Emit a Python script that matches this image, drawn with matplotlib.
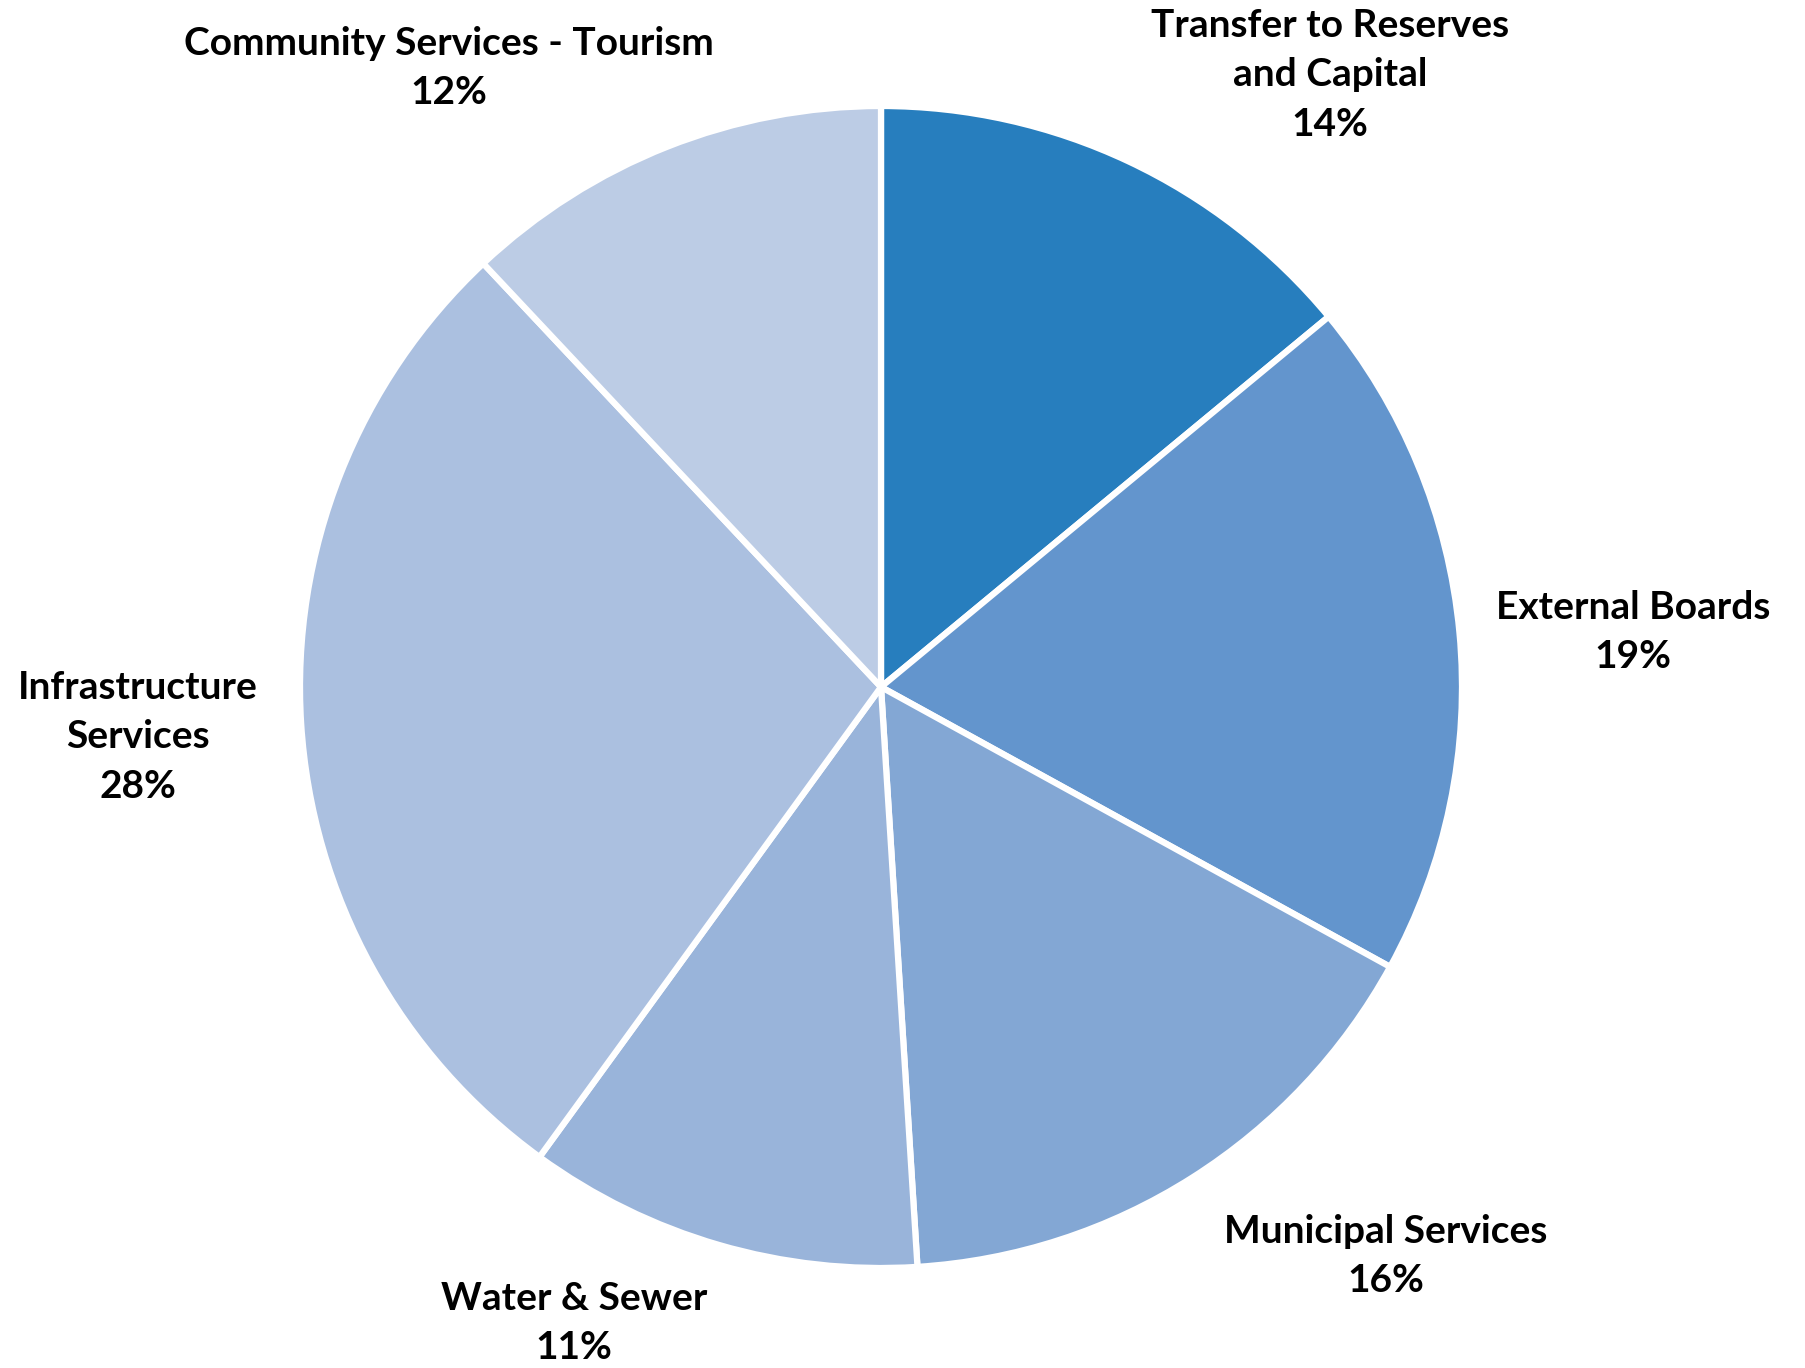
import matplotlib.pyplot as plt

categories = ['Transfer to Reserves\nand Capital', 'External Boards', 'Municipal Services',
              'Water & Sewer', 'Infrastructure\nServices', 'Community Services - Tourism']
shares = [14, 19, 16, 11, 28, 12]
colors = ['#277EBE', '#6395CD', '#83A7D4', '#99B4DA', '#ABC0E0', '#BCCCE5']

# label centres in pixel coords (x from left, y from top)
label_pos = [(1330, 75), (1633, 632), (1386, 1256), (574, 1323), (138, 737), (449, 68)]

W, H = 1806, 1368
plt.rcParams['font.family'] = ['Lato', 'DejaVu Sans']

fig = plt.figure(figsize=(W / 100, H / 100), dpi=100)
ax = fig.add_axes([0, 0, 1, 1])

ax.pie(shares, colors=colors, startangle=90, counterclock=False,
       center=(881, H - 687), radius=581, frame=True,
       wedgeprops=dict(edgecolor='white', linewidth=4.5))
ax.set_xlim(0, W)
ax.set_ylim(0, H)
ax.set_aspect('equal')
ax.axis('off')

for name, val, (x, y) in zip(categories, shares, label_pos):
    ax.text(x, H - y, f'{name}\n{val}%', ha='center', va='center', fontsize=28,
            fontweight='bold', linespacing=1.5, color='black')

fig.savefig('out.png', dpi=100)
